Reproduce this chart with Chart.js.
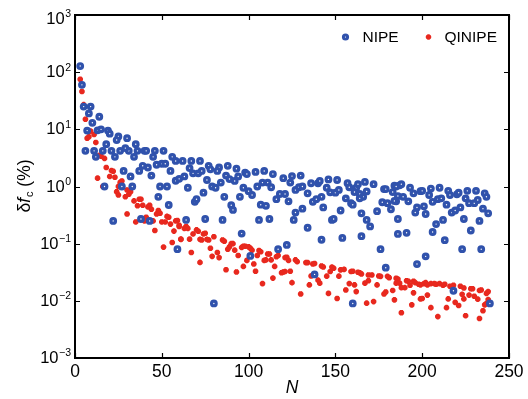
<!DOCTYPE html>
<html><head><meta charset="utf-8">
<script src="https://cdn.jsdelivr.net/npm/chart.js@4/dist/chart.umd.min.js"></script>
<style>html,body{margin:0;padding:0;background:#fff;}canvas{display:block;}</style>
</head><body>
<canvas id="c" width="528" height="399"></canvas>
<script>
// ---- data ----
const seriesNames = ['NIPE', 'QINIPE'];
const nipeN = [3,4,5,9,8,14,10,7,13,15,19,20,25,24,30,35,18,6,11,16,21,26,31,36,40,41,46,51,29,34,12,23,45,56,39,42,47,50,52,37,28,32,44,55,58,60,17,27,33,49,53,48,54,22,38,43,59,
 58,62,67,72,66,68,71,73,77,78,83,82,88,93,98,99,104,109,114,120,63,65,76,79,81,84,87,89,92,94,74,69,70,86,90,91,95,97,100,102,105,108,111,113,107,110,116,118,121,123,64,75,85,106,112,96,101,117,122,80,
 125,130,124,127,129,131,134,136,140,141,146,151,145,147,150,152,157,158,162,163,167,172,178,179,184,183,187,161,164,166,168,137,139,142,143,153,156,159,160,164,165,174,177,180,182,185,127,131,126,148,149,168,170,186,134,142,154,165,176,186,138,179,160,
 185,188,193,195,199,200,205,204,210,206,209,211,215,216,220,221,226,231,236,237,225,227,230,232,184,186,189,192,197,201,202,196,214,217,219,222,224,228,233,235,238,212,208,206,191,213,202,197,223,234,218,239];
const nipeV = [128,60,25,25,19,16.6,13,9.5,9.6,10,9.5,8.4,7.5,6.5,7,5.5,5.5,4.2,4.2,4.2,4.2,4.2,4.2,4.2,4.2,4.2,4.2,4.2,4.7,3.3,3.3,3.3,3.3,3.3,2.3,2.15,2.4,2.5,2.5,1.87,1.87,1.5,1.55,1.87,1.26,1.36,1.0,1.0,1.0,1.0,1.0,0.66,0.475,0.25,0.27,0.25,0.08,
 2.8,2.8,2.8,2.8,2.1,1.7,1.7,1.87,2.3,2.0,2.15,1.87,2.3,2.05,1.75,1.65,1.8,1.87,1.65,1.4,1.5,0.95,1.3,1.0,0.95,1.17,1.55,1.35,1.25,1.5,0.78,0.54,0.6,0.66,0.47,0.39,0.66,0.95,0.83,0.71,1.0,1.17,1.17,0.97,0.48,0.46,0.6,0.74,0.74,0.55,0.26,0.27,0.26,0.26,0.27,0.15,0.061,0.08,0.095,0.009,
 1.52,1.55,1.17,0.87,0.97,1.0,0.76,1.14,1.14,1.25,1.33,1.3,0.95,0.79,0.78,0.87,1.14,0.97,0.95,1.1,1.2,1.1,0.9,0.9,1.03,0.8,1.05,0.8,0.74,0.66,0.82,0.54,0.6,0.66,0.43,0.38,0.62,0.51,0.48,0.62,0.34,0.37,0.53,0.51,0.4,0.55,0.35,0.41,0.26,0.26,0.27,0.26,0.2,0.27,0.19,0.117,0.126,0.135,0.08,0.148,0.029,0.038,0.009,
 1.0,1.1,0.95,0.76,0.83,0.84,0.92,0.71,0.95,0.54,0.6,0.62,0.84,0.71,0.73,0.78,0.84,0.84,0.76,0.66,0.62,0.51,0.51,0.58,0.56,0.68,0.66,0.55,0.43,0.45,0.33,0.35,0.48,0.35,0.38,0.43,0.27,0.17,0.25,0.41,0.34,0.26,0.22,0.16,0.155,0.115,0.06,0.044,0.08,0.08,0.015,0.009];
const qinipeN = [3,4,5,6,7,8,9,11,12,14,15,17,18,21,22,13,20,23,26,27,16,25,
 24,25,29,31,32,30,34,37,38,36,39,42,43,44,30,35,41,40,45,46,48,49,47,50,52,53,54,55,57,58,59,60,56,51,61,
 60,63,64,65,68,70,71,74,75,80,85,86,90,91,96,97,101,102,106,107,111,112,116,117,121,122,123,
 61,66,72,73,77,76,78,82,83,79,67,72,88,89,92,94,98,100,99,97,103,104,87,93,105,109,110,113,115,108,114,119,120,124,
 127,128,133,134,137,138,142,143,148,149,153,155,159,160,164,165,169,171,175,176,180,181,185,186,
 121,125,130,135,136,140,141,145,146,147,151,152,156,158,161,162,163,167,168,169,172,174,178,179,183,184,185,
 187,188,190,191,192,193,195,196,198,199,201,202,203,205,207,208,210,212,213,216,218,222,224,228,229,233,234,237,238,
 188,194,195,199,200,203,205,209,214,215,219,221,223,224,225,227,230,232,233,235,236,237,238];
const qinipeV = [75,46,27,15,7.0,7.4,9.3,8.1,5.9,3.5,3.4,3.1,2.15,1.9,1.85,1.4,1.5,1.45,1.18,1.25,1.0,1.0,
 0.81,0.71,0.66,0.73,0.81,0.87,0.56,0.6,0.6,0.46,0.47,0.44,0.47,0.4,0.33,0.24,0.29,0.25,0.25,0.17,0.38,0.34,0.33,0.24,0.24,0.3,0.29,0.22,0.166,0.25,0.255,0.21,0.105,0.087,0.12,
 0.2,0.185,0.2,0.185,0.148,0.174,0.165,0.148,0.152,0.132,0.116,0.11,0.1,0.1,0.086,0.09,0.083,0.077,0.076,0.072,0.066,0.066,0.059,0.062,0.057,0.058,0.051,
 0.119,0.12,0.119,0.116,0.116,0.119,0.083,0.07,0.057,0.06,0.07,0.047,0.08,0.088,0.077,0.062,0.09,0.088,0.051,0.04,0.044,0.033,0.035,0.032,0.062,0.051,0.052,0.052,0.04,0.02,0.025,0.031,0.032,0.033,
 0.052,0.0484,0.0466,0.0466,0.044,0.045,0.0407,0.039,0.0389,0.0372,0.0348,0.0355,0.0325,0.033,0.031,0.0295,0.0283,0.0283,0.0272,0.0268,0.0268,0.0254,0.0248,0.024,
 0.0325,0.0208,0.0132,0.019,0.0272,0.023,0.0204,0.027,0.0135,0.0325,0.011,0.027,0.0155,0.02,0.019,0.0145,0.0316,0.0204,0.0091,0.0225,0.0097,0.019,0.0132,0.0143,0.0152,0.0104,0.0204,
 0.0204,0.017,0.017,0.0225,0.022,0.0187,0.022,0.0208,0.0195,0.019,0.02,0.0208,0.019,0.02,0.02,0.0195,0.02,0.0187,0.0195,0.018,0.0187,0.018,0.0168,0.0163,0.0163,0.0152,0.0155,0.0135,0.0145,
 0.0062,0.0085,0.0138,0.0108,0.011,0.0126,0.0076,0.0053,0.0076,0.0108,0.0094,0.0083,0.013,0.0108,0.0055,0.0126,0.012,0.0107,0.0049,0.0067,0.0085,0.009,0.0105];
const xTickValues = [0, 50, 100, 150, 200, 250];
const yTickExponents = [3, 2, 1, 0, -1, -2, -3];
const xTitle = 'N';
const yTitleParts = ['δ', 'f', 'c', ' (%)'];

// ---- styles ----
const BLUE = 'rgb(48,82,172)';
const RED = 'rgb(232,40,30)';
const FAM = '"Liberation Sans", Arial, Helvetica, sans-serif';

const nipe = nipeN.map((n, i) => ({x: n, y: nipeV[i]}));
const qinipe = qinipeN.map((n, i) => ({x: n, y: qinipeV[i]}));

function drawStar(ctx, x, y, r, color, lw) {
  ctx.save();
  ctx.strokeStyle = color; ctx.lineWidth = lw; ctx.lineCap = 'butt';
  ctx.beginPath();
  ctx.moveTo(x - r, y); ctx.lineTo(x + r, y);
  ctx.moveTo(x, y - r); ctx.lineTo(x, y + r);
  const d = r * Math.SQRT1_2;
  ctx.moveTo(x - d, y - d); ctx.lineTo(x + d, y + d);
  ctx.moveTo(x - d, y + d); ctx.lineTo(x + d, y - d);
  ctx.stroke();
  ctx.restore();
}

const decor = {
  id: 'decor',
  afterDraw(chart) {
    const ctx = chart.ctx, a = chart.chartArea;
    const xs = chart.scales.x, ys = chart.scales.y;
    ctx.save();
    ctx.strokeStyle = '#000'; ctx.lineWidth = 2;
    ctx.strokeRect(a.left, a.top, a.right - a.left, a.bottom - a.top);
    ctx.lineWidth = 1.2;
    ctx.beginPath();
    xTickValues.forEach(v => {
      const px = Math.round(xs.getPixelForValue(v)) + 0.5;
      ctx.moveTo(px, a.bottom); ctx.lineTo(px, a.bottom - 5);
      ctx.moveTo(px, a.top); ctx.lineTo(px, a.top + 5);
    });
    yTickExponents.forEach(e => {
      const py = Math.round(ys.getPixelForValue(Math.pow(10, e))) + 0.5;
      ctx.moveTo(a.left, py); ctx.lineTo(a.left + 5, py);
      ctx.moveTo(a.right, py); ctx.lineTo(a.right - 5, py);
    });
    ctx.stroke();
    ctx.fillStyle = '#000';
    ctx.textBaseline = 'middle'; ctx.textAlign = 'left';
    const baseFont = '16.5px ' + FAM, expFont = '10.5px ' + FAM;
    yTickExponents.forEach(e => {
      const py = ys.getPixelForValue(Math.pow(10, e));
      const exp = e < 0 ? '\u2212' + (-e) : String(e);
      ctx.font = expFont; const we = ctx.measureText(exp).width;
      ctx.font = baseFont; const wb = ctx.measureText('10').width;
      const right = 71;
      const yy = e === 3 ? py + 4 : py + 0.5;
      ctx.fillText('10', right - we - wb - 0.5, yy);
      ctx.font = expFont; ctx.fillText(exp, right - we, yy - 5);
    });
    ctx.save();
    ctx.translate(25, (a.top + a.bottom) / 2);
    ctx.rotate(-Math.PI / 2);
    const segs = [
      {t: yTitleParts[0], f: '17.5px ' + FAM, dy: 0},
      {t: yTitleParts[1], f: 'italic 17.5px ' + FAM, dy: 0},
      {t: yTitleParts[2], f: '11px ' + FAM, dy: 4.5},
      {t: yTitleParts[3], f: '17.5px ' + FAM, dy: 0}
    ];
    let tw = 0;
    segs.forEach(s => { ctx.font = s.f; s.w = ctx.measureText(s.t).width; tw += s.w; });
    let cx = -tw / 2;
    ctx.textBaseline = 'middle'; ctx.textAlign = 'left';
    segs.forEach(s => { ctx.font = s.f; ctx.fillText(s.t, cx, s.dy); cx += s.w + (s.t === 'f' ? 1 : 0); });
    ctx.restore();
    const ly = a.top + 22;
    ctx.beginPath();
    ctx.arc(345.5, ly, 2.1, 0, Math.PI * 2);
    ctx.fillStyle = '#fff'; ctx.fill();
    ctx.strokeStyle = BLUE; ctx.lineWidth = 3.0; ctx.stroke();
    drawStar(ctx, 428.5, ly, 2.7, RED, 2);
    ctx.fillStyle = '#000';
    ctx.font = '15.5px ' + FAM;
    ctx.textBaseline = 'middle';
    ctx.fillText(seriesNames[0], 362.5, ly + 0.5);
    ctx.fillText(seriesNames[1], 444.5, ly + 0.5);
    ctx.restore();
  }
};

new Chart(document.getElementById('c'), {
  type: 'scatter',
  data: {
    datasets: [
      {label: seriesNames[0], data: nipe, pointStyle: 'circle', pointRadius: 2.3, pointBorderWidth: 3.2,
       borderColor: BLUE, backgroundColor: '#fff', pointHoverRadius: 2.3},
      {label: seriesNames[1], data: qinipe, pointStyle: 'star', pointRadius: 2.8, pointBorderWidth: 2,
       borderColor: RED, backgroundColor: RED, pointHoverRadius: 2.8}
    ]
  },
  options: {
    responsive: false,
    animation: false,
    events: [],
    layout: {padding: {top: 15, right: 19, left: 0, bottom: 0}},
    plugins: {legend: {display: false}, tooltip: {enabled: false}},
    scales: {
      x: {
        type: 'linear', min: 0, max: 250,
        afterBuildTicks(s) { s.ticks = xTickValues.map(v => ({value: v})); },
        ticks: {font: {family: FAM, size: 17.5}, color: '#000', padding: 4, maxRotation: 0, autoSkip: false},
        grid: {display: false, drawTicks: false},
        border: {display: false},
        title: {display: true, text: xTitle, color: '#000', font: {family: FAM, size: 17.5, style: 'italic'}, padding: {top: 0, bottom: 0}},
        afterFit(s) { s.height = 41; }
      },
      y: {
        type: 'logarithmic', min: 1e-3, max: 1e3,
        ticks: {display: false},
        grid: {display: false, drawTicks: false},
        border: {display: false},
        afterFit(s) { s.width = 75; }
      }
    }
  },
  plugins: [decor]
});
</script>
</body></html>
